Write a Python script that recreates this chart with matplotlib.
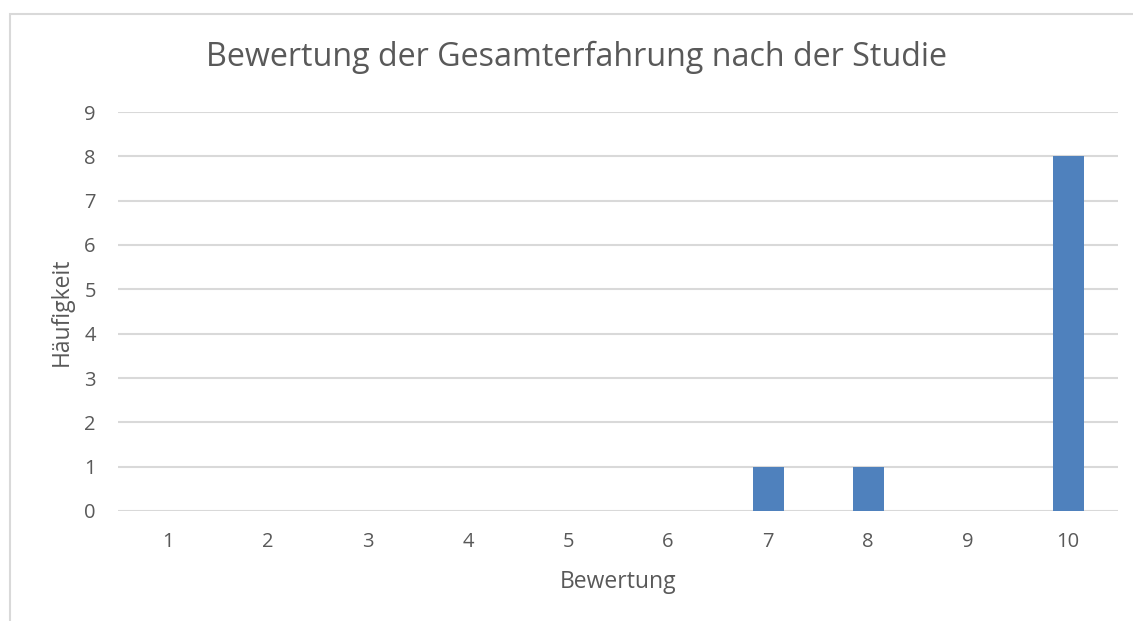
import matplotlib.pyplot as plt
from matplotlib.patches import Rectangle

plt.rcParams['font.family'] = ['Open Sans', 'DejaVu Sans']

bewertung = ['1', '2', '3', '4', '5', '6', '7', '8', '9', '10']
haeufigkeit = [0, 0, 0, 0, 0, 0, 1, 1, 0, 8]
y_ticks = list(range(0, 10))

text_col = '#595959'
grid_col = '#d9d9d9'
bar_col = '#4f81bd'

W, H = 1133, 621
fig = plt.figure(figsize=(W / 100, H / 100), dpi=100)
ax = fig.add_axes([118 / W, 1 - 511 / H, 1000 / W, (511 - 112) / H])

x = list(range(len(bewertung)))
ax.bar(x, haeufigkeit, width=0.31, color=bar_col, zorder=3)

ax.set_xlim(-0.5, len(bewertung) - 0.5)
ax.set_ylim(0, 9)
ax.set_yticks(y_ticks)
ax.set_xticks(x)
ax.set_xticklabels(bewertung)
ax.yaxis.grid(True, color=grid_col, linewidth=1.5, zorder=0)
ax.set_axisbelow(True)
for s in ax.spines.values():
    s.set_visible(False)
ax.tick_params(length=0, labelsize=14.5, colors=text_col)
ax.tick_params(axis='x', pad=15)
ax.tick_params(axis='y', pad=16)

ax.set_xlabel('Bewertung', fontsize=16.5, color=text_col, va='center')
ax.xaxis.set_label_coords(0.5, (511 - 582) / 399)
ax.set_ylabel('Häufigkeit', fontsize=16.5, color=text_col, va='center')
ax.yaxis.set_label_coords((62 - 118) / 1000, 0.5)
fig.text(577 / W, 1 - 57 / H, 'Bewertung der Gesamterfahrung nach der Studie',
         ha='center', va='center', fontsize=23.2, color=text_col)

# chart border (cropped on right and bottom)
fig.patches.append(Rectangle((10 / W, -0.1), 1.2, 1 - 14 / H + 0.1,
                             transform=fig.transFigure, fill=False,
                             edgecolor=grid_col, linewidth=1.5))

fig.savefig('out.png', dpi=100, facecolor='white')
